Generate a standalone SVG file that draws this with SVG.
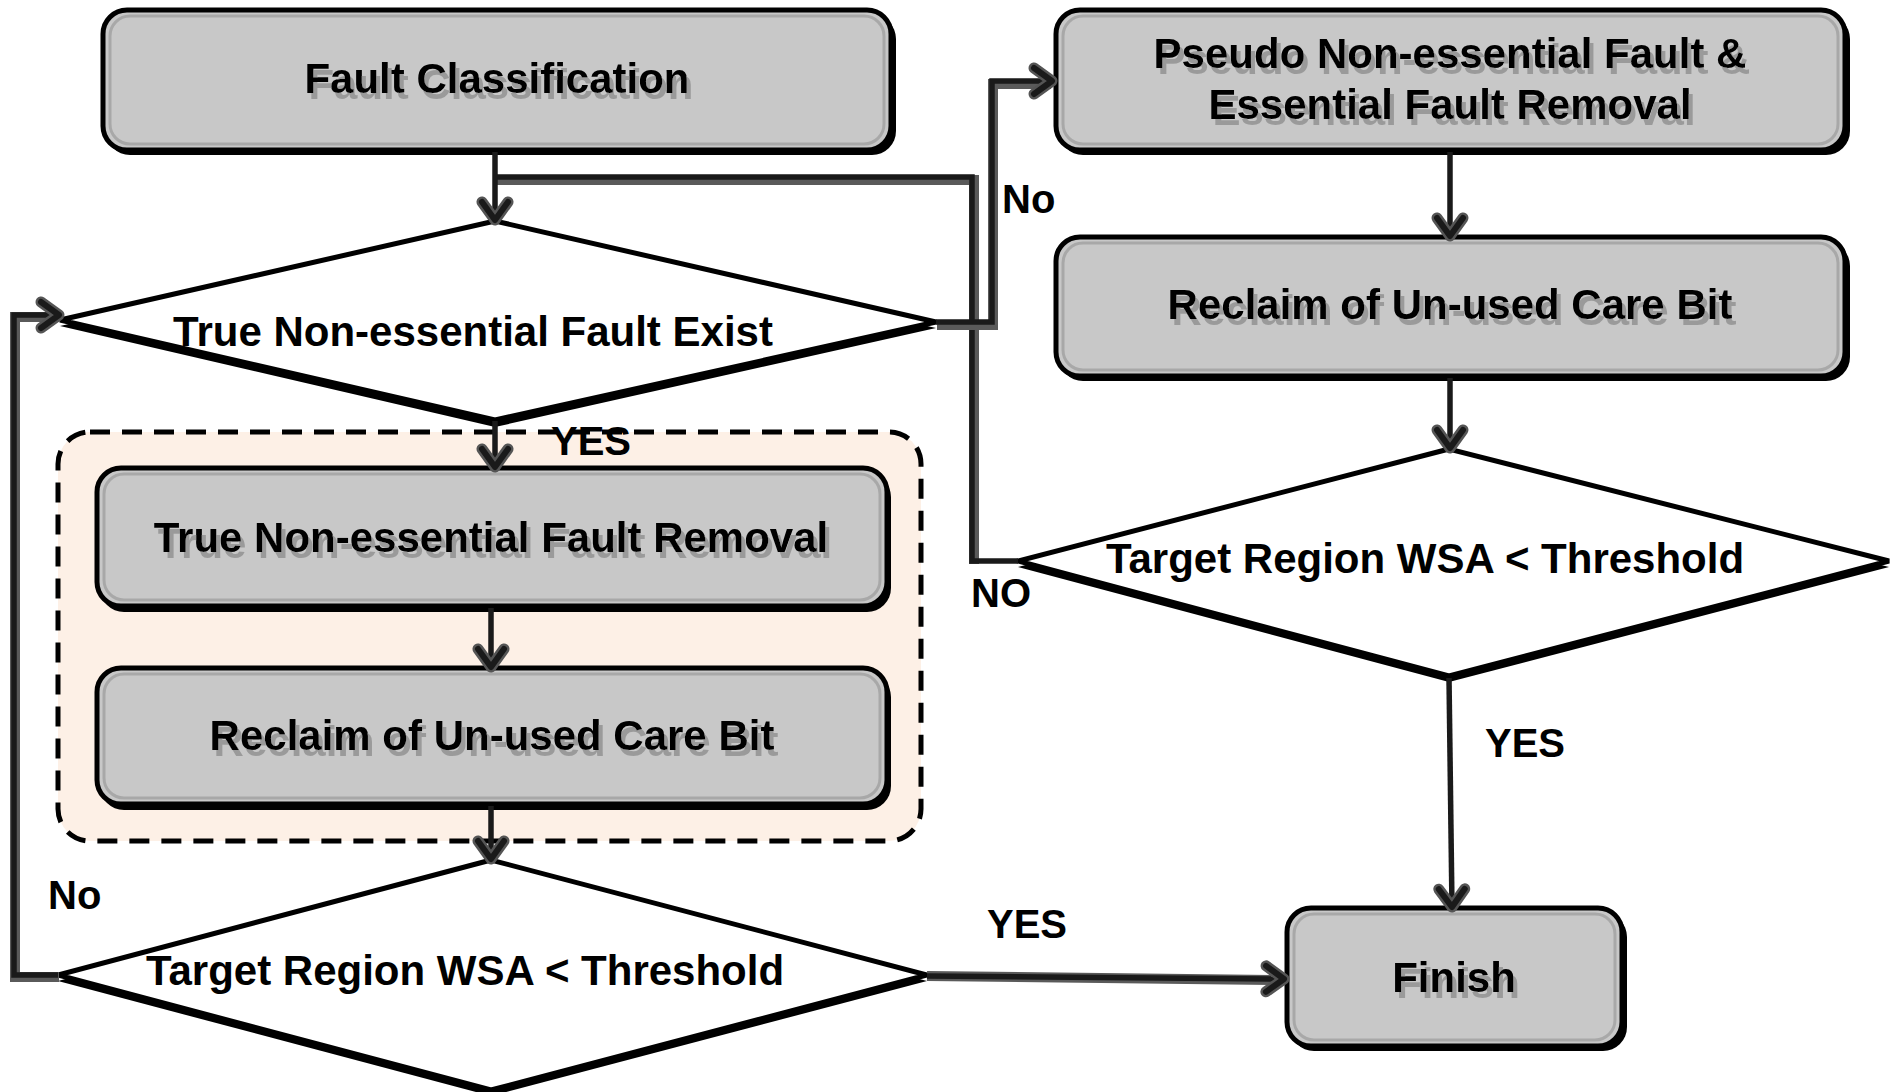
<svg xmlns="http://www.w3.org/2000/svg" width="1893" height="1092" viewBox="0 0 1893 1092">
<defs>
<marker id="arr" markerUnits="userSpaceOnUse" markerWidth="50" markerHeight="50" viewBox="-25 -25 50 50" refX="0" refY="0" orient="auto" overflow="visible">
<path d="M-18,-13 L0,0 L-18,13" fill="none" stroke="#555" stroke-width="11" stroke-linecap="round" stroke-linejoin="round"/>
<path d="M-18,-13 L0,0 L-18,13" fill="none" stroke="#1a1a1a" stroke-width="6" stroke-linecap="round" stroke-linejoin="round"/>
</marker>
<filter id="tsh" x="-5%" y="-30%" width="112%" height="180%">
<feOffset in="SourceAlpha" dx="4" dy="6" result="o"/>
<feFlood flood-color="#9a9a9a"/>
<feComposite in2="o" operator="in" result="s"/>
<feMerge><feMergeNode in="s"/><feMergeNode in="SourceGraphic"/></feMerge>
</filter>
</defs>
<style>
.box{fill:#c8c8c8;stroke:#000;stroke-width:5}
.boxsh{fill:#000}
.inner{fill:none;stroke:#a8a8a8;stroke-width:3}
.dia{fill:#fff;stroke:#000;stroke-width:5;stroke-linejoin:miter}
.diash{fill:#000}
.t{font-family:"Liberation Sans",Arial,sans-serif;font-weight:bold;font-size:42px;text-anchor:middle;fill:#000}
.sh{filter:url(#tsh)}
.lbl{font-family:"Liberation Sans",Arial,sans-serif;font-weight:bold;font-size:40px;fill:#000}
.csh{fill:none;stroke:#5a5a5a;stroke-width:10}
.c{fill:none;stroke:#1a1a1a;stroke-width:5.5}
</style>
<rect width="1893" height="1092" fill="#fff"/>

<g id="group-container">
<rect x="58" y="432" width="863" height="409" rx="32" fill="#fdf0e6" stroke="#000" stroke-width="5" stroke-dasharray="20 12"/>
</g>

<g id="node-fault-classification">
<rect class="boxsh" x="106" y="15" width="790" height="140" rx="24"/>
<rect class="box" x="103" y="10" width="788" height="140" rx="24"/>
<rect class="inner" x="110" y="16" width="774" height="128" rx="20"/>
<text class="t sh" x="497" y="93">Fault Classification</text>
</g>

<g id="node-true-exist">
<polygon class="diash" points="495,227 60,326 495,427 936,328"/>
<polygon class="dia" points="495,221 60,320 495,420 936,322"/>
<text class="t" x="473" y="346">True Non-essential Fault Exist</text>
</g>

<g id="node-true-removal">
<rect class="boxsh" x="100" y="473" width="791" height="139" rx="24"/>
<rect class="box" x="97" y="468" width="790" height="138" rx="24"/>
<rect class="inner" x="104" y="474" width="776" height="126" rx="20"/>
<text class="t sh" x="491" y="552">True Non-essential Fault Removal</text>
</g>

<g id="node-reclaim-left">
<rect class="boxsh" x="100" y="673" width="791" height="137" rx="24"/>
<rect class="box" x="97" y="668" width="790" height="136" rx="24"/>
<rect class="inner" x="104" y="674" width="776" height="124" rx="20"/>
<text class="t sh" x="492" y="750">Reclaim of Un-used Care Bit</text>
</g>

<g id="node-wsa-left">
<polygon class="diash" points="491,866 58,981 491,1096 927,981"/>
<polygon class="dia" points="491,860 58,975 491,1090 927,975"/>
<text class="t" x="465" y="985">Target Region WSA &lt; Threshold</text>
</g>

<g id="node-pseudo">
<rect class="boxsh" x="1059" y="15" width="791" height="140" rx="24"/>
<rect class="box" x="1056" y="10" width="789" height="140" rx="24"/>
<rect class="inner" x="1063" y="16" width="775" height="128" rx="20"/>
<text class="t sh" x="1450" y="68">Pseudo Non-essential Fault &amp;</text>
<text class="t sh" x="1450" y="119">Essential Fault Removal</text>
</g>

<g id="node-reclaim-right">
<rect class="boxsh" x="1059" y="242" width="791" height="139" rx="24"/>
<rect class="box" x="1056" y="237" width="789" height="139" rx="24"/>
<rect class="inner" x="1063" y="243" width="775" height="127" rx="20"/>
<text class="t sh" x="1450" y="319">Reclaim of Un-used Care Bit</text>
</g>

<g id="node-wsa-right">
<polygon class="diash" points="1449,455 1018,567 1449,682 1889,567"/>
<polygon class="dia" points="1449,449 1018,561 1449,676 1889,561"/>
<text class="t" x="1425" y="573">Target Region WSA &lt; Threshold</text>
</g>

<g id="node-finish">
<rect class="boxsh" x="1290" y="913" width="337" height="138" rx="24"/>
<rect class="box" x="1287" y="908" width="335" height="138" rx="24"/>
<rect class="inner" x="1294" y="914" width="321" height="126" rx="20"/>
<text class="t sh" x="1454" y="992">Finish</text>
</g>

<g id="connectors">
<path class="csh" d="M972,561 L972,177 L495,177" transform="translate(2,3)"/>
<path class="c" d="M1018,561 L972,561 L972,177 L495,177"/>
<path class="csh" d="M936,322 L992,322 L992,81 L1050,81" transform="translate(1,3)"/>
<path class="c" d="M936,322 L992,322 L992,81 L1052,81" marker-end="url(#arr)"/>
<path class="c" d="M495,152 L495,220" marker-end="url(#arr)"/>
<path class="c" d="M495,421 L495,467" marker-end="url(#arr)"/>
<path class="c" d="M491,608 L491,667" marker-end="url(#arr)"/>
<path class="c" d="M491,806 L491,859" marker-end="url(#arr)"/>
<path class="c" d="M1450,152 L1450,236" marker-end="url(#arr)"/>
<path class="c" d="M1450,378 L1450,448" marker-end="url(#arr)"/>
<path class="c" d="M1449,678 L1452,907" marker-end="url(#arr)"/>
<path class="csh" d="M58,975 L14,975 L14,315 L58,315" transform="translate(1,2)"/>
<path class="c" d="M58,975 L14,975 L14,315 L59,315" marker-end="url(#arr)"/>
<path class="csh" d="M927,976 L1283,980"/>
<path class="c" d="M927,976 L1284,979" marker-end="url(#arr)"/>
</g>

<g id="labels">
<text class="lbl" x="1002" y="213">No</text>
<text class="lbl" x="551" y="455">YES</text>
<text class="lbl" x="971" y="607">NO</text>
<text class="lbl" x="1485" y="757">YES</text>
<text class="lbl" x="48" y="909">No</text>
<text class="lbl" x="987" y="938">YES</text>
</g>
</svg>
